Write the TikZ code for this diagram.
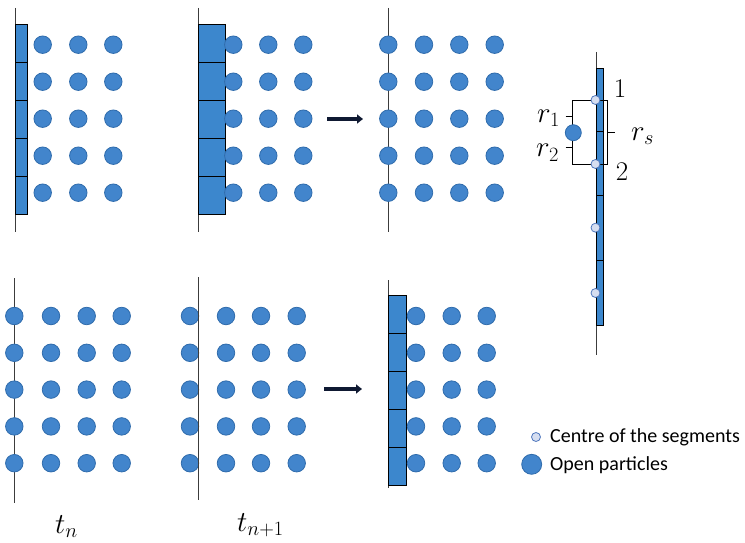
\RequirePackage{fix-cm}
\documentclass[tikz,border=0pt]{standalone}
\usepackage{fontspec}
\newfontfamily\legendfont{Carlito}
\usetikzlibrary{arrows.meta}
\definecolor{pblue}{RGB}{66,133,204}
\definecolor{pedge}{RGB}{48,108,172}
\definecolor{segblue}{RGB}{60,135,205}
\definecolor{cfill}{RGB}{214,222,240}
\definecolor{cedge}{RGB}{80,120,190}
\definecolor{wallgray}{RGB}{60,60,60}
\definecolor{arrowc}{RGB}{15,25,50}
\begin{document}
\begin{tikzpicture}[x=1pt,y=-1pt,
  wall/.style={draw=wallgray,line width=1.3pt},
  seg/.style={draw=black,fill=segblue,line width=1pt},
  particle/.style={circle,fill=pblue,draw=pedge,line width=0.8pt,minimum size=17.5pt,inner sep=0pt},
  centre/.style={circle,fill=cfill,draw=cedge,line width=0.8pt,minimum size=9pt,inner sep=0pt},
  move/.style={draw=arrowc,line width=3.5pt,-{Triangle[length=6pt,width=9pt]}},
  lab/.style={font=\fontsize{27}{31}\selectfont,inner sep=0pt},
  mlab/.style={font=\fontsize{29}{33}\selectfont,inner sep=0pt,anchor=base west},
  leg/.style={font=\legendfont\fontsize{20}{24}\selectfont,anchor=west,inner sep=0pt}]
\useasboundingbox (0,0) rectangle (745,543);

% ---- top-left panel
\draw[wall] (15.7,8) -- (15.7,232);
\foreach \i in {0,...,4} \draw[seg] (15.7,{25+37.8*\i}) rectangle (27.7,{25+37.8*(\i+1)});
\foreach \x [count=\c] in {42.7,78.3,113.3}
  \foreach \j in {0,...,4} \node[particle] (a\c-\j) at (\x,{44.7+37*\j}) {};

% ---- top-middle panel
\draw[wall] (198.3,8) -- (198.3,232);
\foreach \i in {0,...,4} \draw[seg] (198.3,{25+37.8*\i}) rectangle (225.7,{25+37.8*(\i+1)});
\foreach \x [count=\c] in {233.3,268.3,303.3}
  \foreach \j in {0,...,4} \node[particle] (b\c-\j) at (\x,{44.7+37*\j}) {};

% ---- top-right panel
\draw[wall] (388.3,8) -- (388.3,232);
\foreach \x [count=\c] in {388.3,424,459.3,494.7}
  \foreach \j in {0,...,4} \node[particle] (c\c-\j) at (\x,{44.7+37*\j}) {};

% ---- bottom-left panel
\draw[wall] (14.3,278) -- (14.3,503);
\foreach \x [count=\c] in {14.3,51,86.7,121.7}
  \foreach \j in {0,...,4} \node[particle] (d\c-\j) at (\x,{316+36.8*\j}) {};

% ---- bottom-middle panel
\foreach \x [count=\c] in {190,226,261,296.7}
  \foreach \j in {0,...,4} \node[particle] (e\c-\j) at (\x,{316+36.8*\j}) {};
\draw[wall] (198.3,277) -- (198.3,500);

% ---- bottom-right panel
\draw[wall] (388.3,280) -- (388.3,488);
\foreach \i in {0,...,4} \draw[seg] (388.3,{295+38*\i}) rectangle (406.7,{295+38*(\i+1)});
\foreach \x [count=\c] in {416,451.7,486.7}
  \foreach \j in {0,...,4} \node[particle] (f\c-\j) at (\x,{316+36.8*\j}) {};

% ---- arrows
\coordinate (ta) at (327,119);
\coordinate (tb) at (363,119);
\coordinate (ba) at (324,389);
\coordinate (bb) at (362,389);
\draw[move] (ta) -- (tb);
\draw[move] (ba) -- (bb);

% ---- time labels
\node[mlab] (tn) at (55,533) {$t_n$};
\node[mlab] (tn1) at (237,531) {$t_{n+1}$};

% ---- inset
\draw[wall,line width=1pt] (596,52) -- (596,355);
\foreach \a/\b in {68/131,131/195,195/260,260/325} \draw[seg,line width=0.9pt] (596.7,\a) rectangle (603.3,\b);
\draw[black,line width=0.9pt] (572.7,100) rectangle (607.7,164);
\draw[black,line width=0.9pt] (565.7,116) -- (572.7,116);
\draw[black,line width=0.9pt] (565.7,147.5) -- (572.7,147.5);
\draw[black,line width=0.9pt] (607.7,132) -- (615,132);
\node[particle,minimum size=16pt] (op) at (573.3,132.7) {};
\foreach \y [count=\c] in {100,164,227.7,293} \node[centre] (s\c) at (595.5,\y) {};
\node[lab] (n1) at (620,89) {1};
\node[lab] (n2) at (622,171.5) {2};
\node[mlab] (r1) at (537,122) {$r_1$};
\node[mlab] (r2) at (536,157) {$r_2$};
\node[mlab] (rs) at (631,140) {$r_s$};

% ---- legend
\node[centre] (lc) at (536,437) {};
\node[leg] (lct) at (550,437) {Centre of the segments};
\node[particle,minimum size=20pt] (lp) at (531.7,464.3) {};
\node[leg] (lpt) at (550,465) {Open particles};
\end{tikzpicture}
\end{document}
